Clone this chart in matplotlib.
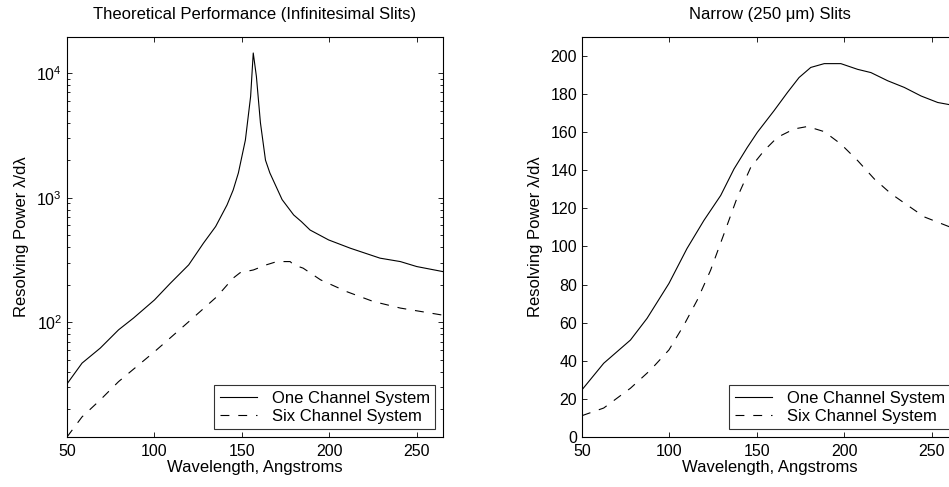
import matplotlib
matplotlib.use("Agg")
import matplotlib.pyplot as plt
from matplotlib.ticker import LogLocator, NullFormatter

plt.rcParams['font.family'] = ['Liberation Sans', 'DejaVu Sans']
plt.rcParams['mathtext.fontset'] = 'custom'
plt.rcParams['mathtext.rm'] = 'Liberation Sans'
plt.rcParams['mathtext.it'] = 'Liberation Sans:italic'

# left panel: infinitesimal slits (log scale)
wl_ideal_one = [50, 58.6, 69, 79.5, 88, 100, 109, 119.6, 128, 135, 141.5, 145, 148, 152,
                155, 156.5, 158.3, 160.6, 163.5, 166, 173, 179.6, 184, 189, 199.6, 212,
                229, 240.6, 250, 265]
rp_ideal_one = [32, 47, 62, 87, 108, 151, 205, 289, 431, 587, 874, 1150, 1580, 2900,
                6500, 14500, 9400, 4000, 2000, 1580, 965, 727, 643, 550, 458, 393,
                327, 307, 280, 255]
wl_ideal_six = [50, 58.6, 69, 79.5, 100, 119.6, 135.8, 145, 149, 156.6, 164, 170, 177.6,
                179.6, 185, 195, 210, 225, 240.6, 265]
rp_ideal_six = [12, 17.4, 23.8, 33.4, 58, 101, 161, 226, 250, 263, 289, 307, 307,
                289, 272, 219, 176, 147, 130, 114]

# right panel: narrow 250 um slits (linear scale)
wl_narrow_one = [50, 62.4, 77.7, 87.2, 99.7, 110, 119.7, 129.3, 136.9, 144.5, 150.3, 159.8,
                 167.5, 174.1, 180.8, 188.5, 198, 207.6, 215.2, 224.8, 234.3, 243.9,
                 253.4, 260.5, 265]
rp_narrow_one = [24.8, 38.7, 50.9, 62.3, 80.6, 98.9, 113.7, 126.8, 140.7, 152, 160, 171.3,
                 180.9, 188.7, 194, 196, 196, 193, 191.3, 187, 183.5, 179,
                 175.6, 174.4, 173]
wl_narrow_six = [50, 62.4, 77.7, 89.2, 99.7, 108.3, 115.9, 123.5, 131.2, 138.8, 146.5,
                 154.1, 161.7, 171.3, 178.9, 188.5, 198, 207.6, 217.1, 226.7, 236.2,
                 245.8, 260.5, 265]
rp_narrow_six = [11.2, 15.2, 25.6, 35.2, 45.7, 58.8, 71.9, 87.5, 106.7, 125.9, 141.6,
                 150.3, 157.3, 161.7, 163, 160.3, 153.8, 145.1, 135.5, 127.7, 121.6,
                 115.5, 110.2, 108]

series_labels = ['One Channel System', 'Six Channel System']
x_ticks = [50, 100, 150, 200, 250]

fig = plt.figure(figsize=(9.49, 4.87), dpi=100)
ax1 = fig.add_axes([0.0706, 0.1027, 0.3962, 0.8214])
ax2 = fig.add_axes([0.6133, 0.1027, 0.3962, 0.8214])

dash = (0, (8, 8))


def style_axes(ax):
    ax.tick_params(which='both', direction='in', top=True, right=True,
                   labelsize=11.5, width=0.6, color='black')
    ax.tick_params(which='major', length=3.5)
    ax.tick_params(which='minor', length=2)
    ax.tick_params(axis='x', pad=5)
    for s in ax.spines.values():
        s.set_linewidth(0.8)
    ax.set_xlim(50, 265)
    ax.set_xticks(x_ticks)
    ax.set_xlabel('Wavelength, Angstroms', fontsize=12, labelpad=1)
    ax.set_ylabel('Resolving Power λ/dλ', fontsize=12, labelpad=5)


ax1.plot(wl_ideal_one, rp_ideal_one, color='black', lw=0.8, label=series_labels[0])
ax1.plot(wl_ideal_six, rp_ideal_six, color='black', lw=0.8, ls=dash, label=series_labels[1])
ax1.set_yscale('log')
ax1.set_ylim(12, 1.95e4)
ax1.yaxis.set_major_locator(LogLocator(base=10, numticks=10))
ax1.yaxis.set_minor_locator(LogLocator(base=10, subs=range(2, 10), numticks=20))
ax1.yaxis.set_minor_formatter(NullFormatter())
ax1.set_yticks([100, 1000, 10000])
style_axes(ax1)
ax1.set_title('Theoretical Performance (Infinitesimal Slits)', fontsize=12, pad=13)

ax2.plot(wl_narrow_one, rp_narrow_one, color='black', lw=0.8, label=series_labels[0])
ax2.plot(wl_narrow_six, rp_narrow_six, color='black', lw=0.8, ls=dash, label=series_labels[1])
ax2.set_ylim(0, 210)
ax2.set_yticks(range(0, 201, 20))
style_axes(ax2)
ax2.set_title('Narrow (250 μm) Slits', fontsize=12, pad=13)

for ax in (ax1, ax2):
    leg = ax.legend(loc='lower right', fontsize=12, frameon=True, fancybox=False,
                    handlelength=2.2, borderaxespad=0.45, borderpad=0.35,
                    labelspacing=0.15, handletextpad=0.9)
    leg.get_frame().set_edgecolor('black')
    leg.get_frame().set_linewidth(0.8)

fig.savefig('out.png', dpi=100)
